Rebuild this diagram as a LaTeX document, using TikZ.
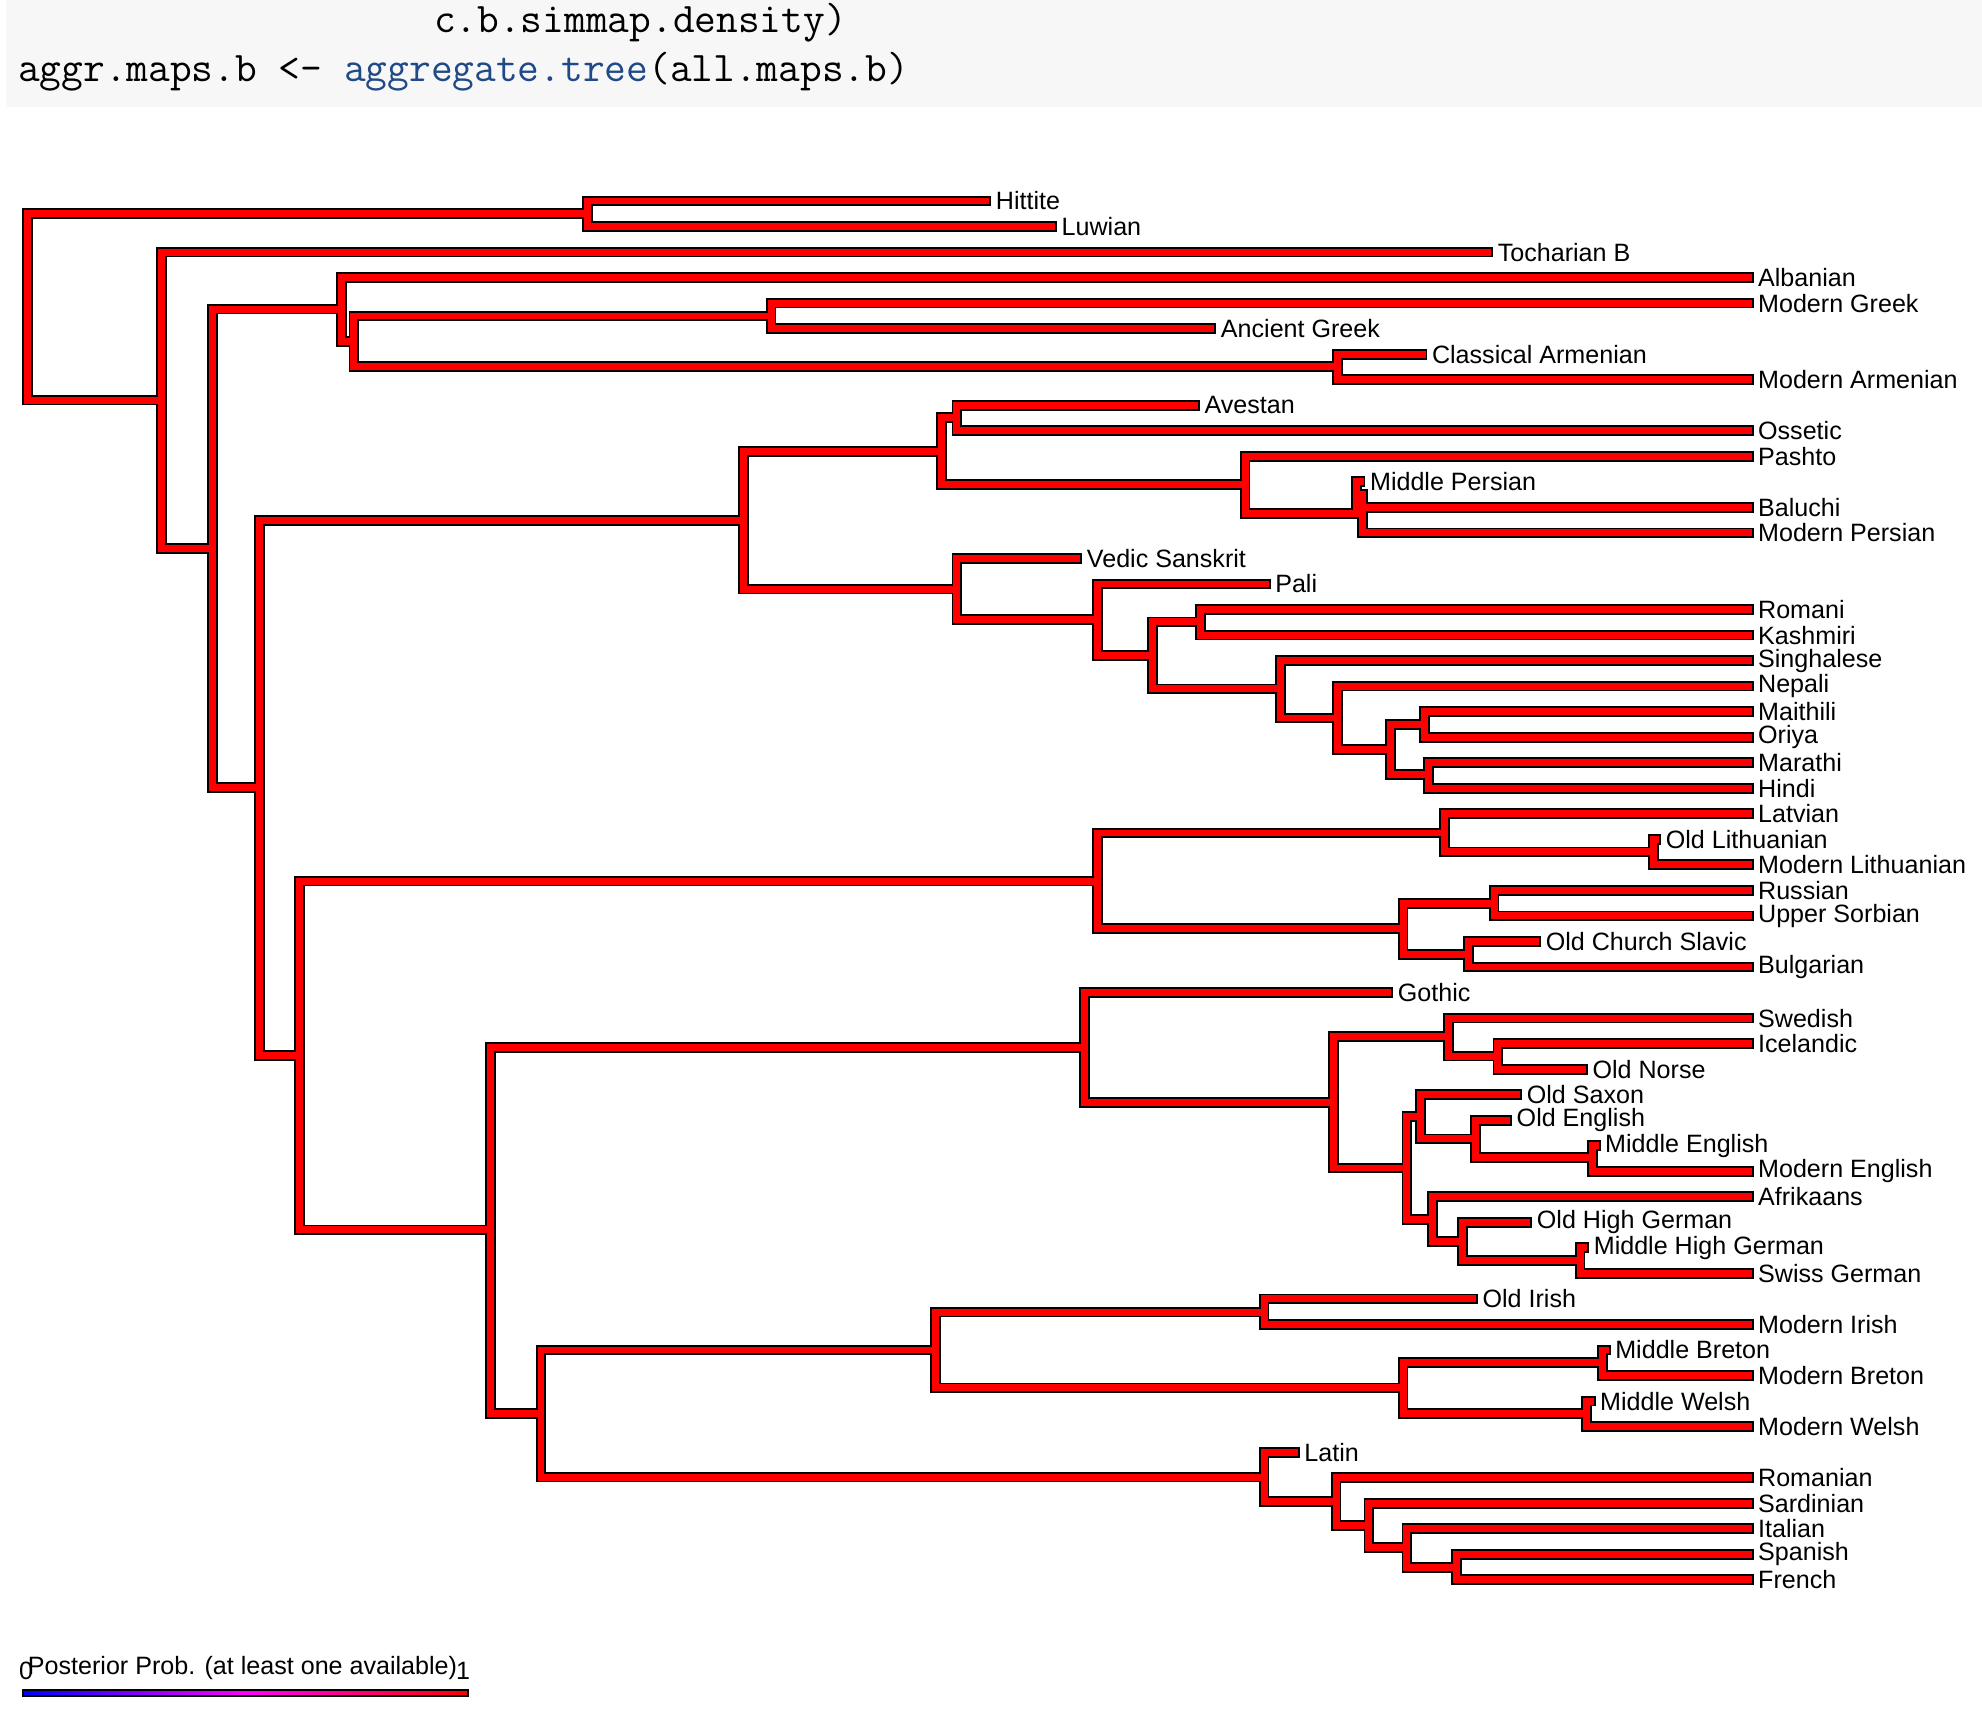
\documentclass[tikz,border=0pt]{standalone}
\usepackage{fontspec}
\setmainfont{Liberation Sans}
\usepackage{tikz}
\usetikzlibrary{positioning}
\definecolor{codebg}{HTML}{F7F7F7}
\definecolor{codefn}{HTML}{204A87}

\newcommand\tip[4]{\node[lab] (#1) at (#2,{-159-(#3-1)*20.2}) {#4};}
\newcommand\inode[3]{\coordinate (#1) at (#2,-#3);}

\begin{document}
\begin{tikzpicture}[ x = 0.02cm, y = 0.02cm
                   , lab/.style = { anchor = west, inner xsep = 4.3pt, inner ysep = 0pt
                                  , font = \fontsize{11.3}{13}\selectfont }
                   , outer/.style = { line width = 8.5*0.02cm, black, line cap = rect }
                   , inner/.style = { line width = 5.5*0.02cm, red, line cap = rect }
                   ]
  \useasboundingbox (0,0) rectangle (1568,-1355);

  % code block
  \fill[codebg] (5,0) rectangle (1568,-85);
  \node (code1) [anchor = west, inner sep = 0pt, font = \ttfamily\fontsize{19}{21}\selectfont]
    at (343,-18) {c.b.simmap.density)};
  \node (code2) [anchor = west, inner sep = 0pt, font = \ttfamily\fontsize{19}{21}\selectfont]
    at (14,-57) {aggr.maps.b <- \textcolor{codefn}{aggregate.tree}(all.maps.b)};

  % tips
  \tip{hit}{780}{1}{Hittite}
  \tip{luw}{832}{2}{Luwian}
  \tip{toch}{1177}{3}{Tocharian B}
  \tip{alba}{1383}{4}{Albanian}
  \tip{mgr}{1383}{5}{Modern Greek}
  \tip{agr}{958}{6}{Ancient Greek}
  \tip{carm}{1125}{7}{Classical Armenian}
  \tip{marm}{1383}{8}{Modern Armenian}
  \tip{ave}{945}{9}{Avestan}
  \tip{oss}{1383}{10}{Ossetic}
  \tip{pashto}{1383}{11}{Pashto}
  \tip{mpers}{1076}{12}{Middle Persian}
  \tip{bal}{1383}{13}{Baluchi}
  \tip{mper}{1383}{14}{Modern Persian}
  \tip{ved}{852}{15}{Vedic Sanskrit}
  \tip{pali}{1001}{16}{Pali}
  \tip{rom}{1383}{17}{Romani}
  \tip{kas}{1383}{18}{Kashmiri}
  \tip{sin}{1383}{19}{Singhalese}
  \tip{nep}{1383}{20}{Nepali}
  \tip{mai}{1383}{21}{Maithili}
  \tip{ori}{1383}{22}{Oriya}
  \tip{mar}{1383}{23}{Marathi}
  \tip{hin}{1383}{24}{Hindi}
  \tip{lat}{1383}{25}{Latvian}
  \tip{olith}{1310}{26}{Old Lithuanian}
  \tip{mlith}{1383}{27}{Modern Lithuanian}
  \tip{russ}{1383}{28}{Russian}
  \tip{usorb}{1383}{29}{Upper Sorbian}
  \tip{ochs}{1215}{30}{Old Church Slavic}
  \tip{bulg}{1383}{31}{Bulgarian}
  \tip{goth}{1098}{32}{Gothic}
  \tip{swe}{1383}{33}{Swedish}
  \tip{ice}{1383}{34}{Icelandic}
  \tip{onor}{1252}{35}{Old Norse}
  \tip{osax}{1200}{36}{Old Saxon}
  \tip{oeng}{1192}{37}{Old English}
  \tip{meng}{1262}{38}{Middle English}
  \tip{moeng}{1383}{39}{Modern English}
  \tip{afr}{1383}{40}{Afrikaans}
  \tip{ohg}{1208}{41}{Old High German}
  \tip{mhg}{1253}{42}{Middle High German}
  \tip{swg}{1383}{43}{Swiss German}
  \tip{oir}{1165}{44}{Old Irish}
  \tip{mir}{1383}{45}{Modern Irish}
  \tip{mbre}{1270}{46}{Middle Breton}
  \tip{mobre}{1383}{47}{Modern Breton}
  \tip{mwel}{1258}{48}{Middle Welsh}
  \tip{mowel}{1383}{49}{Modern Welsh}
  \tip{lati}{1024}{50}{Latin}
  \tip{roma}{1383}{51}{Romanian}
  \tip{sard}{1383}{52}{Sardinian}
  \tip{ita}{1383}{53}{Italian}
  \tip{spa}{1383}{54}{Spanish}
  \tip{fre}{1383}{55}{French}

  % inner nodes
  \inode{anat}{465}{169}
  \inode{grk}{610}{250}
  \inode{arm}{1058}{290}
  \inode{grar}{280}{270}
  \inode{alb}{270}{244.5}
  \inode{aveoss}{757}{330.5}
  \inode{per1}{1073}{391}
  \inode{per2}{1078}{406}
  \inode{pash}{985}{383.5}
  \inode{iran}{745}{357}
  \inode{mo}{1127}{573}
  \inode{mh}{1130}{613}
  \inode{in1}{1100}{593}
  \inode{in2}{1058}{568}
  \inode{in3}{1013}{545}
  \inode{rk}{950}{492}
  \inode{in4}{912}{518.5}
  \inode{in5}{868}{490}
  \inode{indic}{757}{466}
  \inode{indir}{588}{411.5}
  \inode{lith}{1308}{674}
  \inode{balt}{1143}{659}
  \inode{rus}{1182}{714.5}
  \inode{ocs}{1162}{755}
  \inode{slav}{1110}{734.7}
  \inode{bs}{868}{697}
  \inode{icn}{1185}{835.5}
  \inode{nord}{1146}{820}
  \inode{engl}{1260}{916}
  \inode{oe}{1167}{901}
  \inode{af}{1124}{883.5}
  \inode{hg1}{1250}{997}
  \inode{hg2}{1157}{982}
  \inode{hg3}{1133}{964.5}
  \inode{wg}{1113}{924}
  \inode{nw}{1055}{872}
  \inode{germ}{858}{828.5}
  \inode{iri}{1000}{1038}
  \inode{bre}{1268}{1078}
  \inode{wel}{1255}{1118.5}
  \inode{bryth}{1110}{1098}
  \inode{celt}{740}{1068}
  \inode{sf}{1152}{1240}
  \inode{it1}{1113}{1224.5}
  \inode{it2}{1083}{1207}
  \inode{it3}{1057}{1188}
  \inode{ital}{1000}{1168.5}
  \inode{itc}{428}{1118}
  \inode{gic}{388}{973}
  \inode{bsgic}{237}{835}
  \inode{ie3}{205}{623}
  \inode{ie2}{168}{434}
  \inode{ie1}{128}{316.5}
  \inode{root}{22}{242.7}

  \def\edges{root/anat, root/ie1, anat/hit.west, anat/luw.west,
    ie1/toch.west, ie1/ie2, ie2/alb, ie2/ie3, alb/alba.west, alb/grar,
    grar/grk, grar/arm, grk/mgr.west, grk/agr.west, arm/carm.west, arm/marm.west,
    ie3/indir, ie3/bsgic, indir/iran, indir/indic,
    iran/aveoss, iran/pash, aveoss/ave.west, aveoss/oss.west,
    pash/pashto.west, pash/per2, per2/per1, per2/mper.west, per1/mpers.west, per1/bal.west,
    indic/ved.west, indic/in5, in5/pali.west, in5/in4, in4/rk, in4/in3,
    rk/rom.west, rk/kas.west, in3/sin.west, in3/in2, in2/nep.west, in2/in1,
    in1/mo, in1/mh, mo/mai.west, mo/ori.west, mh/mar.west, mh/hin.west,
    bsgic/bs, bsgic/gic, bs/balt, bs/slav, balt/lat.west, balt/lith,
    lith/olith.west, lith/mlith.west, slav/rus, slav/ocs,
    rus/russ.west, rus/usorb.west, ocs/ochs.west, ocs/bulg.west,
    gic/germ, gic/itc, germ/goth.west, germ/nw, nw/nord, nw/wg,
    nord/swe.west, nord/icn, icn/ice.west, icn/onor.west,
    wg/af, wg/hg3, af/osax.west, af/oe, oe/oeng.west, oe/engl,
    engl/meng.west, engl/moeng.west, hg3/afr.west, hg3/hg2,
    hg2/ohg.west, hg2/hg1, hg1/mhg.west, hg1/swg.west,
    itc/celt, itc/ital, celt/iri, celt/bryth, iri/oir.west, iri/mir.west,
    bryth/bre, bryth/wel, bre/mbre.west, bre/mobre.west, wel/mwel.west, wel/mowel.west,
    ital/lati.west, ital/it3, it3/roma.west, it3/it2, it2/sard.west, it2/it1,
    it1/ita.west, it1/sf, sf/spa.west, sf/fre.west}

  \foreach \p/\c in \edges { \draw[outer] (\p) |- (\c); }
  \foreach \p/\c in \edges { \draw[inner] (\p) |- (\c); }

  % legend
  \shade[left color = blue, right color = red, middle color = magenta]
    (18,-1337) rectangle (370,-1342);
  \draw[line width = 0.8pt] (18,-1337) rectangle (370,-1342);
  \node (lzero) [anchor = south west, inner sep = 1pt, font = \fontsize{11.3}{13}\selectfont]
    at (13,-1331) {0};
  \node (lone) [anchor = south east, inner sep = 1pt, font = \fontsize{11.3}{13}\selectfont]
    at (374,-1331) {1};
  \node (ltitle) [anchor = south west, inner sep = 1pt, font = \fontsize{11.3}{13}\selectfont]
    at (20,-1331) {Posterior Prob. (at least one available)};
\end{tikzpicture}
\end{document}
